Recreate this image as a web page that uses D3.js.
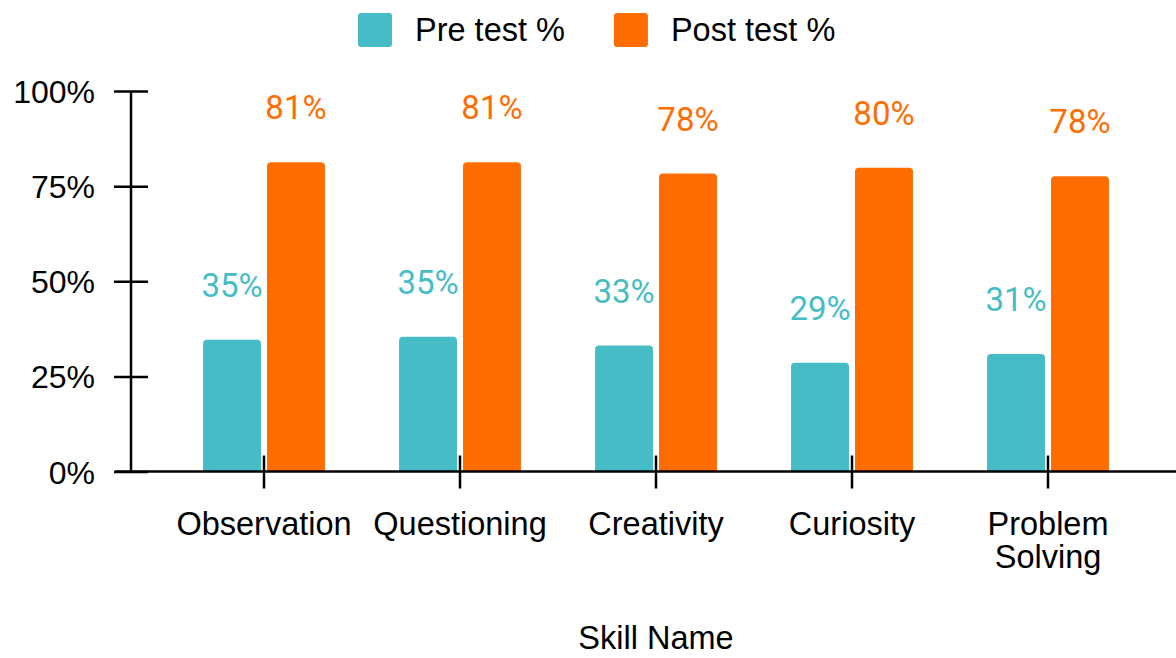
<!DOCTYPE html>
<html lang="en">
<head>
<meta charset="UTF-8">
<title>Pre vs Post test by skill</title>
<style>
    body { margin: 0; padding: 0; background: #fff; }
    .axis-text { font-family: "Liberation Sans", Arial, sans-serif; fill: #000; }
    .value { font-family: Roboto, sans-serif; font-size: 33px; }
</style>
</head>
<body>
<script src="https://cdn.jsdelivr.net/npm/d3@7"></script>
<script>
    var skills = ['Observation', 'Questioning', 'Creativity', 'Curiosity', 'Problem Solving'];
    var preTest = [34.6, 35.4, 33.1, 28.6, 30.9];
    var postTest = [81.3, 81.3, 78.3, 79.8, 77.6];
    var seriesNames = ['Pre test %', 'Post test %'];
    var yTicks = [0, 25, 50, 75, 100];

    var colors = ['#46bdc6', '#ff6d01'];
    var W = 1176, H = 658;

    var svg = d3.select('body').append('svg')
        .attr('width', W)
        .attr('height', H);

    var y = d3.scaleLinear().domain([0, 100]).range([471.5, 91]);
    var x0 = d3.scaleBand().domain(skills).range([166, 1146])
        .paddingInner(0.378).paddingOuter(0.189);
    var x1 = d3.scaleBand().domain([0, 1]).range([0, x0.bandwidth()]).paddingInner(0.094);

    // y axis
    var yAxis = svg.append('g')
        .attr('transform', 'translate(131,0)')
        .call(d3.axisLeft(y).tickValues(yTicks).tickFormat(function(d) { return d + '%'; }).tickSize(17));
    yAxis.select('.domain').remove();
    yAxis.append('line').attr('x1', 0).attr('x2', 0).attr('y1', y(100)).attr('y2', y(0))
        .attr('stroke', '#000').attr('stroke-width', 2.5);
    yAxis.selectAll('.tick line').attr('x1', 17).attr('x2', -17).attr('stroke', '#000').attr('stroke-width', 2.5);
    yAxis.selectAll('.tick text')
        .attr('class', 'axis-text')
        .attr('x', -36)
        .attr('dy', '0.36em')
        .style('font-size', '32px');

    // bars
    var rows = skills.map(function(s, i) { return { skill: s, vals: [preTest[i], postTest[i]] }; });

    function topRounded(x, yTop, w, h, r) {
        return 'M' + x + ',' + (yTop + h) +
            'V' + (yTop + r) +
            'Q' + x + ',' + yTop + ' ' + (x + r) + ',' + yTop +
            'H' + (x + w - r) +
            'Q' + (x + w) + ',' + yTop + ' ' + (x + w) + ',' + (yTop + r) +
            'V' + (yTop + h) + 'Z';
    }

    var groups = svg.selectAll('g.group')
        .data(rows)
        .enter().append('g')
        .attr('class', 'group')
        .attr('transform', function(d) { return 'translate(' + x0(d.skill) + ',0)'; });

    groups.selectAll('path')
        .data(function(d) { return d.vals; })
        .enter().append('path')
        .attr('fill', function(d, i) { return colors[i]; })
        .attr('d', function(d, i) {
            return topRounded(x1(i), y(d), x1.bandwidth(), y(0) - y(d), 4);
        });

    groups.selectAll('text.value')
        .data(function(d) { return d.vals; })
        .enter().append('text')
        .attr('class', 'value')
        .attr('fill', function(d, i) { return colors[i]; })
        .attr('text-anchor', 'middle')
        .attr('x', function(d, i) { return x1(i) + x1.bandwidth() / 2; })
        .attr('y', function(d) { return y(d) - 43; })
        .text(function(d) { return Math.round(d) + '%'; });

    // x axis
    var xAxis = svg.append('g')
        .attr('transform', 'translate(0,' + y(0) + ')')
        .call(d3.axisBottom(x0).tickSize(17).tickSizeOuter(0));
    xAxis.select('.domain').remove();
    xAxis.insert('line', ':first-child').attr('x1', 115).attr('x2', W).attr('y1', 0).attr('y2', 0)
        .attr('stroke', '#000').attr('stroke-width', 2.5);
    xAxis.selectAll('.tick line').attr('y1', -16).attr('y2', 17).attr('stroke', '#000').attr('stroke-width', 2.5);
    xAxis.selectAll('.tick text').remove();
    xAxis.selectAll('.tick').append('text')
        .attr('class', 'axis-text')
        .attr('text-anchor', 'middle')
        .style('font-size', '32.5px')
        .each(function(d) {
            var words = d === 'Problem Solving' ? ['Problem', 'Solving'] : [d];
            var t = d3.select(this);
            words.forEach(function(w, k) {
                t.append('tspan').attr('x', 0).attr('y', 63 + k * 33).text(w);
            });
        });

    svg.append('text')
        .attr('class', 'axis-text')
        .attr('x', 656)
        .attr('y', 649)
        .attr('text-anchor', 'middle')
        .style('font-size', '32.5px')
        .text('Skill Name');

    // legend
    var lx = 358;
    seriesNames.forEach(function(name, i) {
        svg.append('rect')
            .attr('x', lx).attr('y', 13)
            .attr('width', 34).attr('height', 34)
            .attr('rx', 3)
            .attr('fill', colors[i]);
        var t = svg.append('text')
            .attr('class', 'axis-text')
            .attr('x', lx + 57)
            .attr('y', 41)
            .style('font-size', '32.5px')
            .text(name);
        lx = lx + 57 + t.node().getComputedTextLength() + 49;
    });
</script>
</body>
</html>
